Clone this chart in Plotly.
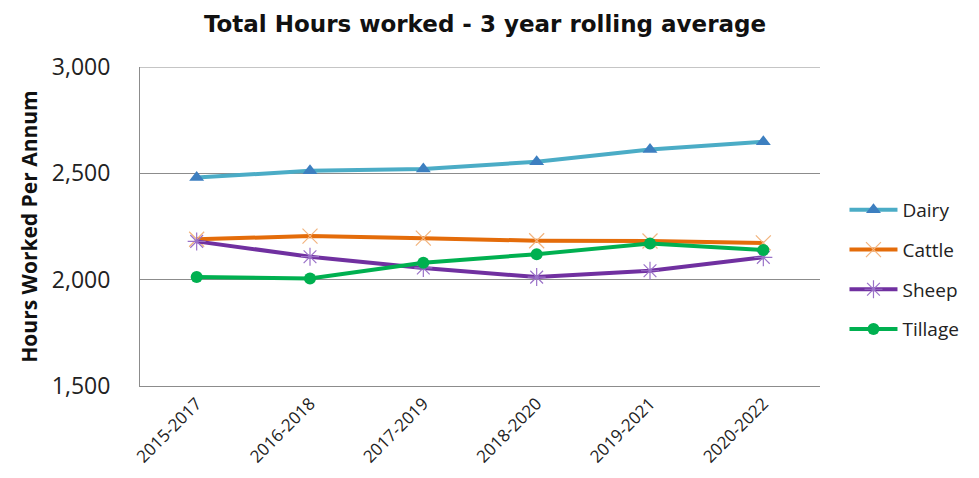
import plotly.graph_objects as go

categories = ["2015-2017", "2016-2018", "2017-2019", "2018-2020", "2019-2021", "2020-2022"]
dairy = [2480, 2512, 2520, 2555, 2612, 2648]
cattle = [2190, 2205, 2195, 2183, 2182, 2173]
sheep = [2180, 2108, 2055, 2012, 2042, 2105]
tillage = [2012, 2006, 2080, 2120, 2170, 2140]

series = [
    ("Dairy", dairy, "#4BACC6", dict(symbol="triangle-up", size=13, color="#3D7FC0")),
    ("Cattle", cattle, "#E46C0A", dict(symbol="x-thin-open", size=15, color="#F2B47E", line=dict(width=1.2, color="#F2B47E"))),
    ("Sheep", sheep, "#7030A0", dict(symbol="asterisk-open", size=15, color="#9A72C8", line=dict(width=1.2, color="#9A72C8"))),
    ("Tillage", tillage, "#00B050", dict(symbol="circle", size=12, color="#00B050")),
]

fig = go.Figure()
for name, vals, col, mk in series:
    fig.add_trace(go.Scatter(
        x=categories, y=vals, name=name, mode="lines+markers", legendgroup=name,
        line=dict(color=col, width=4), marker=mk,
    ))

W, H = 971, 470
L, T = 132, 59
PW, PH = 680, 319

# top gridline at 3,000 (plotly omits the grid line at the range edge)
fig.add_shape(type="line", xref="paper", x0=0, x1=1, yref="y", y0=3000, y1=3000,
              line=dict(color="#8c8c8c", width=1), layer="below")

fig.update_layout(
    width=W, height=H,
    margin=dict(l=L, r=W - L - PW, t=T, b=H - T - PH, autoexpand=False),
    paper_bgcolor="white", plot_bgcolor="white",
    font=dict(family="Open Sans, Noto Sans, sans-serif", color="#222222"),
    title=dict(text="<b>Total Hours worked - 3 year rolling average</b>",
               x=(485 - 8) / W, xanchor="center", xref="container",
               y=1 - 16 / H, yanchor="middle", yref="container",
               font=dict(family="DejaVu Sans, Open Sans, sans-serif", size=23, color="#111111")),
    showlegend=True,
    legend=dict(x=1.036, xanchor="left", y=1 - (269.5 - 67) / PH, yanchor="middle",
                font=dict(size=19, color="#222222"), tracegroupgap=12,
                itemwidth=48, bgcolor="rgba(0,0,0,0)"),
    xaxis=dict(type="category", range=[-0.5, 5.5], tickangle=-45,
               showgrid=False, showline=True, linecolor="#8c8c8c", linewidth=1,
               ticks="", tickfont=dict(size=17, color="#222222")),
    yaxis=dict(range=[1500, 3000], dtick=500, tick0=1500, tickformat=",",
               showgrid=True, gridcolor="#8c8c8c", gridwidth=1,
               showline=True, linecolor="#8c8c8c", linewidth=1,
               ticks="", ticklen=0, ticklabelstandoff=24,
               tickfont=dict(size=23, color="#222222"),
               zeroline=False,
               title=dict(text="<b>Hours Worked Per Annum</b>", font=dict(size=21, color="#111111"), standoff=8)),
)

fig.write_html("out.html")
